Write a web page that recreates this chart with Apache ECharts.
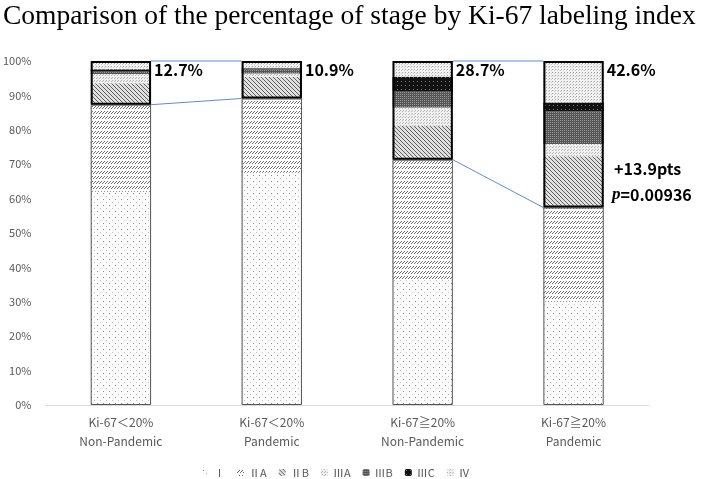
<!DOCTYPE html>
<html><head><meta charset="utf-8">
<script src="https://cdn.jsdelivr.net/npm/echarts@6/dist/echarts.min.js"></script>
<style>html,body{margin:0;padding:0;background:#fff}#c{width:714px;height:479px}</style>
</head><body><div id="c"></div>
<script>
const categories = ['Ki-67＜20%\nNon-Pandemic', 'Ki-67＜20%\nPandemic', 'Ki-67≧20%\nNon-Pandemic', 'Ki-67≧20%\nPandemic'];
const stageNames = ['Ⅰ', 'ⅡA', 'ⅡB', 'ⅢA', 'ⅢB', 'ⅢC', 'Ⅳ'];
const stageI    = [62.0, 67.5, 36.4, 30.0];
const stageIIA  = [25.3, 21.6, 34.9, 27.4];
const stageIIB  = [6.2, 6.3, 9.8, 14.9];
const stageIIIA = [2.7, 1.0, 5.4, 3.6];
const stageIIIB = [0.9, 1.2, 4.8, 9.5];
const stageIIIC = [0.5, 0.3, 4.1, 2.5];
const stageIV   = [2.4, 2.1, 4.6, 12.1];
const upperLabels = ['12.7%', '10.9%', '28.7%', '42.6%'];
const diffText = '+13.9pts';
const pText = '0.00936';
const yTicks = [0, 10, 20, 30, 40, 50, 60, 70, 80, 90, 100];

function pat(w, h, bg, draw) {
  const c = document.createElement('canvas'); c.width = w; c.height = h;
  const g = c.getContext('2d'); g.fillStyle = bg; g.fillRect(0, 0, w, h); draw(g);
  return { image: c, repeat: 'repeat' };
}
const patterns = [
  pat(6, 6, '#fcfcfc', g => { g.fillStyle = '#8a8a8a'; g.fillRect(1, 1, 1, 1); g.fillStyle = '#c0c0c0'; g.fillRect(4, 4, 1, 1); }),
  pat(6, 5, '#ffffff', g => { g.strokeStyle = '#707070'; g.lineWidth = 1; g.beginPath(); g.moveTo(0, 4); g.lineTo(3, 1); g.moveTo(3, 4); g.lineTo(6, 1); g.stroke(); }),
  pat(4, 4, '#e0e0e0', g => { g.strokeStyle = '#606060'; g.lineWidth = 1; g.beginPath(); g.moveTo(-1, -1); g.lineTo(5, 5); g.moveTo(-1, 3); g.lineTo(1, 5); g.moveTo(3, -1); g.lineTo(5, 1); g.stroke(); }),
  pat(3, 3, '#f0f0f0', g => { g.fillStyle = '#b5b5b5'; g.fillRect(0, 0, 1, 1); g.fillRect(1, 2, 1, 1); }),
  pat(2, 2, '#555555', g => { g.fillStyle = '#9a9a9a'; g.fillRect(0, 0, 1, 1); }),
  pat(4, 4, '#111111', g => { g.fillStyle = '#777'; g.fillRect(1, 1, 1, 1); }),
  pat(3, 3, '#f2f2f2', g => { g.fillStyle = '#a0a0a0'; g.fillRect(0, 0, 1, 1); g.fillStyle = '#cacaca'; g.fillRect(2, 1, 1, 1); })
];
const stageData = [stageI, stageIIA, stageIIB, stageIIIA, stageIIIB, stageIIIC, stageIV];
const lowerTop = stageI.map((v, i) => +(v + stageIIA[i]).toFixed(1));
const upperSum = lowerTop.map(v => +(100 - v).toFixed(1));

const chart = echarts.init(document.getElementById('c'), null, { renderer: 'canvas' });
const series = stageData.map((arr, k) => ({
  name: stageNames[k], type: 'bar', stack: 'main', barWidth: '40%', barGap: '-100%',
  data: arr, itemStyle: { color: patterns[k] }
}));
series.push({
  name: 'base', type: 'bar', stack: 'box', barWidth: '40%', barGap: '-100%', silent: true,
  data: lowerTop, itemStyle: { color: 'rgba(0,0,0,0)', borderColor: '#555', borderWidth: 1 }, z: 3
});
series.push({
  name: 'box', type: 'bar', stack: 'box', barWidth: '40%', barGap: '-100%', silent: true,
  data: upperSum, itemStyle: { color: 'rgba(0,0,0,0)', borderColor: '#000', borderWidth: 2 }, z: 4,
  label: {
    show: true, position: ['100%', 0], align: 'left', verticalAlign: 'top', offset: [3, 1],
    formatter: p => upperLabels[p.dataIndex],
    fontFamily: 'Noto Sans CJK JP', fontWeight: 'bold', fontSize: 16, color: '#000'
  }
});
series.push({
  name: 'links', type: 'custom', silent: true, z: 2,
  data: [[0, 100, 1, 100], [0, lowerTop[0], 1, lowerTop[1]], [2, 100, 3, 100], [2, lowerTop[2], 3, lowerTop[3]]],
  encode: { x: [0, 2], y: [1, 3] },
  renderItem: (params, api) => {
    const a = api.coord([api.value(0), api.value(1)]);
    const b = api.coord([api.value(2), api.value(3)]);
    const half = api.size([1, 0])[0] * 0.2;
    return { type: 'line', shape: { x1: a[0] + half, y1: a[1], x2: b[0] - half, y2: b[1] }, style: { stroke: '#5b8bd6', lineWidth: 1 } };
  }
});

chart.setOption({
  animation: false,
  title: { text: 'Comparison of the percentage of stage by Ki-67 labeling index', left: -2, top: -2,
    textStyle: { fontFamily: 'Liberation Serif', fontWeight: 'normal', fontSize: 27.5, color: '#000' } },
  grid: { left: 43, right: 65, top: 61, bottom: 74 },
  legend: {
    data: stageNames, left: 197, top: 462, itemWidth: 7, itemHeight: 7, itemGap: 12,
    textStyle: { fontFamily: 'Noto Sans CJK JP', fontSize: 11, color: '#595959' }
  },
  xAxis: {
    type: 'category', data: categories,
    axisLine: { lineStyle: { color: '#d9d9d9' } }, axisTick: { show: false },
    axisLabel: { fontFamily: 'Noto Sans CJK JP', fontSize: 12, color: '#595959', lineHeight: 19, margin: 8 }
  },
  yAxis: {
    type: 'value', min: yTicks[0], max: yTicks[yTicks.length - 1], interval: 10,
    axisLine: { show: false }, axisTick: { show: false }, splitLine: { show: false },
    axisLabel: { formatter: '{value}%', fontFamily: 'Noto Sans CJK JP', fontSize: 11, color: '#595959', margin: 14 }
  },
  graphic: [
    { type: 'text', left: 614, top: 161, style: { text: diffText, font: 'bold 16px "Noto Sans CJK JP"', fill: '#000' } },
    { type: 'text', left: 612, top: 186, style: { rich: { i: { fontStyle: 'italic', fontWeight: 'bold', fontSize: 17, fontFamily: 'Liberation Serif' }, n: { fontWeight: 'bold', fontSize: 16, fontFamily: 'Noto Sans CJK JP' } }, text: '{i|p}{n|=' + pText + '}', fill: '#000' } }
  ],
  series
});
</script></body></html>
